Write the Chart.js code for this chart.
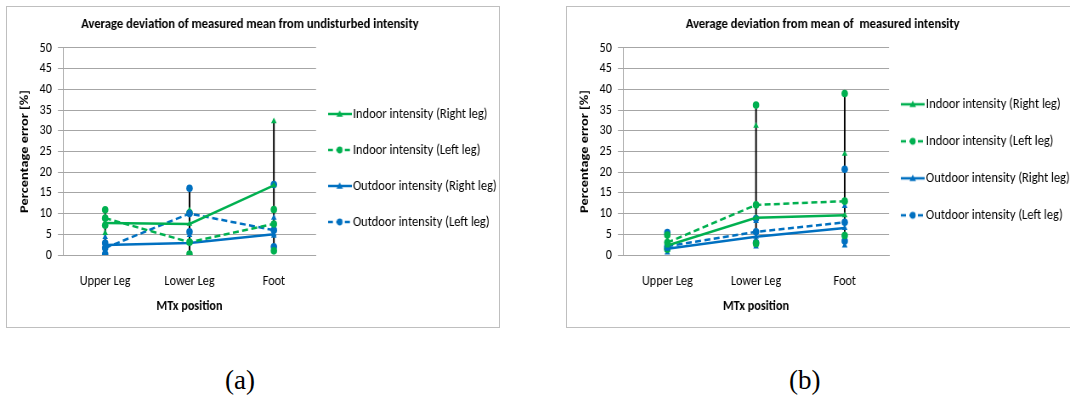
<!DOCTYPE html>
<html>
<head>
<meta charset="utf-8">
<script src="https://cdn.jsdelivr.net/npm/chart.js@4"></script>
<style>
  html, body { margin: 0; padding: 0; width: 1070px; height: 396px; overflow: hidden; background: #fff; }
  .box { position: absolute; top: 6px; height: 320px; border: 1px solid #bfbfbf; }
  /* the original figure is squeezed horizontally */
  canvas { position: absolute; top: 0; transform: scaleX(0.85); transform-origin: 0 0; }
  .cap { position: absolute; top: 365px; line-height: 30px; font-family: 'Liberation Serif', serif; font-size: 27px; color: #000; }
</style>
</head>
<body>
<div class="box" style="left:6px;width:492px"></div>
<div class="box" style="left:566px;width:520px"></div>
<canvas id="chartA" width="588" height="330" style="left:0"></canvas>
<canvas id="chartB" width="618" height="330" style="left:560px"></canvas>
<div class="cap" style="left:225px">(a)</div>
<div class="cap" style="left:789px">(b)</div>
<script>
// categories and series
const positions = ['Upper Leg', 'Lower Leg', 'Foot'];
const seriesNames = [
  'Indoor intensity (Right leg)',
  'Indoor intensity (Left leg)',
  'Outdoor intensity (Right leg)',
  'Outdoor intensity (Left leg)',
];

// (a) deviation of measured mean from undisturbed intensity, one row per series
const aMean = [[7.7, 7.5, 16.8], [8.9, 3.1, 7.5], [2.4, 2.9, 5.0], [1.7, 10.0, 6.0]];
const aMin = [[5.3, 3.0, 10.8], [7.2, 0.2, 1.0], [0.3, 0.2, 4.6], [0.2, 5.6, 2.0]];
const aMax = [[9.1, 10.8, 32.3], [10.9, 10.2, 11.0], [4.3, 4.8, 9.0], [2.9, 16.1, 17.0]];

// (b) deviation from mean of measured intensity
const bMean = [[2.3, 9.0, 9.6], [3.0, 12.1, 13.0], [1.5, 4.4, 6.5], [2.1, 5.6, 7.9]];
const bMin = [[1.2, 2.5, 4.9], [1.4, 2.8, 4.7], [0.6, 2.0, 2.3], [1.6, 3.0, 3.4]];
const bMax = [[3.5, 31.2, 24.4], [4.8, 36.2, 39.0], [2.5, 8.2, 11.8], [5.4, 8.8, 20.7]];

const yMin = 0, yMax = 50, yStep = 5;

// styles
const colors = ['#00b050', '#00b050', '#0070c0', '#0070c0'];
const dashed = [false, true, false, true];
const markers = ['triangle', 'circle', 'triangle', 'circle'];
const FONT = "Carlito, 'Liberation Sans', sans-serif";
const FS = 14.4;
const LEGEND_FS = 14.7;

// legend sample: short line with the marker in the middle
function legendIcon(i) {
  const c = document.createElement('canvas');
  c.width = 28; c.height = 10;
  const g = c.getContext('2d');
  g.strokeStyle = colors[i];
  g.fillStyle = colors[i];
  g.lineWidth = 2.5;
  if (dashed[i]) g.setLineDash([6, 4]);
  g.beginPath(); g.moveTo(0, 5); g.lineTo(28, 5); g.stroke();
  g.beginPath();
  if (markers[i] === 'circle') {
    g.arc(14, 5, 3.4, 0, Math.PI * 2);
  } else {
    g.moveTo(14, 1.2); g.lineTo(17.8, 7.8); g.lineTo(10.2, 7.8); g.closePath();
  }
  g.fill();
  return c;
}

function buildDatasets(mean, min, max) {
  const sets = [];
  mean.forEach((vals, i) => {
    sets.push({
      type: 'line', label: seriesNames[i], data: vals,
      borderColor: colors[i], backgroundColor: colors[i], borderWidth: 2.5,
      borderDash: dashed[i] ? [7, 4] : [], pointStyle: markers[i],
      pointRadius: 3.8, pointBorderWidth: 0, tension: 0, order: 1,
    });
  });
  [min, max].forEach((arr) => {
    arr.forEach((vals, i) => {
      sets.push({
        type: 'line', label: seriesNames[i], data: vals, showLine: false,
        borderColor: colors[i], backgroundColor: colors[i],
        pointStyle: markers[i], pointRadius: 3.8, pointBorderWidth: 0, order: 2,
      });
    });
  });
  // high-low lines over all series
  const range = positions.map((p, j) => {
    const all = min.map((r) => r[j]).concat(max.map((r) => r[j]));
    return [Math.min(...all), Math.max(...all)];
  });
  sets.push({ type: 'bar', label: 'range', data: range, backgroundColor: '#000', barThickness: 1.3, order: 5 });
  return sets;
}

// fixed legend width, and its items placed where the original has them
function placeLegend(width, left, top) {
  return {
    id: 'placeLegend',
    beforeInit(chart) {
      const lg = chart.legend;
      const fit = Object.getPrototypeOf(lg).fit;
      lg.fit = function () { fit.call(this); this.width = width; };
    },
    afterLayout(chart) {
      const lg = chart.legend;
      const h = lg.height;
      lg.left = left; lg.top = top; lg.right = chart.width; lg.bottom = top + h;
    },
  };
}

function makeChart(id, title, mean, min, max, legendWidth, legendLeft, legendTop, legendGap) {
  new Chart(document.getElementById(id), {
    type: 'line',
    data: { labels: positions, datasets: buildDatasets(mean, min, max) },
    options: {
      responsive: false,
      animation: false,
      layout: { padding: 0 },
      plugins: {
        tooltip: { enabled: false },
        title: {
          display: true, text: title, color: '#000',
          font: { family: FONT, size: 14.8, weight: 'bold' },
          padding: { top: 15.1, bottom: 15.1 },
        },
        legend: {
          position: 'right', align: 'start',
          labels: {
            usePointStyle: true, pointStyleWidth: 16.4, padding: legendGap,
            color: '#000', font: { family: FONT, size: LEGEND_FS },
            generateLabels: () => seriesNames.map((name, i) => ({
              text: name, pointStyle: legendIcon(i), datasetIndex: i,
              fontColor: '#000', lineWidth: 0, hidden: false,
            })),
          },
        },
      },
      scales: {
        x: {
          offset: true,
          grid: { display: false, drawTicks: false },
          border: { display: true, color: '#a6a6a6', width: 1 },
          ticks: { color: '#000', padding: 17.4, font: { family: FONT, size: FS } },
          title: {
            display: true, text: 'MTx position', color: '#000',
            font: { family: FONT, size: FS, weight: 'bold' },
            padding: { top: 0, bottom: 15.4 },
          },
          afterFit: (s) => { s.height = 75; },
        },
        y: {
          min: yMin, max: yMax,
          grid: { color: '#a6a6a6', tickLength: 6 },
          border: { display: true, color: '#a6a6a6' },
          ticks: { stepSize: yStep, color: '#000', padding: 7, font: { family: FONT, size: FS } },
          title: {
            display: true, text: 'Percentage error [%]', color: '#000',
            font: { family: FONT, size: FS, weight: 'bold' },
            padding: { top: 20.8, bottom: 0 },
          },
          afterFit: (s) => { s.width = 74.1; },
        },
      },
    },
    plugins: [placeLegend(legendWidth, legendLeft, legendTop)],
  });
}

makeChart('chartA', 'Average deviation of measured mean from undisturbed intensity',
  aMean, aMin, aMax, 216.2, 370.1, 85.35, 21.3);
makeChart('chartB', 'Average deviation from mean of  measured intensity',
  bMean, bMin, bMax, 230.9, 384.5, 74.65, 22.3);
</script>
</body>
</html>
